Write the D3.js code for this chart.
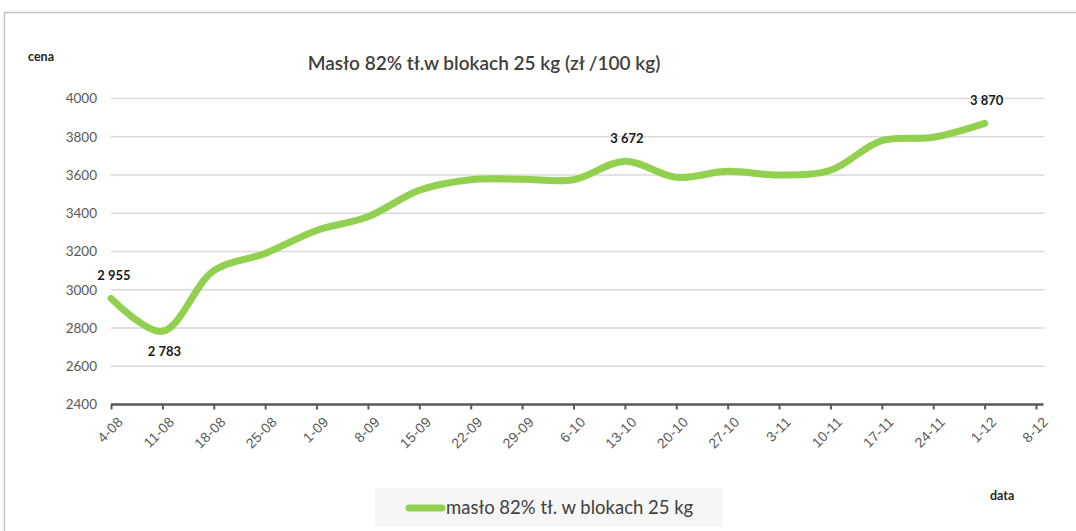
<!DOCTYPE html>
<html><head><meta charset="utf-8">
<script src="https://cdn.jsdelivr.net/npm/d3@7"></script>
<style>
html,body{margin:0;padding:0;background:#fff;}
svg{display:block;font-family:Lato,"Open Sans",sans-serif;}
</style></head>
<body><svg id="c" width="1076" height="531"></svg>
<script>
const categories = ["4-08","11-08","18-08","25-08","1-09","8-09","15-09","22-09","29-09","6-10","13-10","20-10","27-10","3-11","10-11","17-11","24-11","1-12","8-12"];
const prices = [2955,2783,3100,3190,3310,3382,3520,3575,3578,3575,3672,3588,3619,3600,3625,3780,3797,3870,null];
const labelIdx = [0,1,10,17];
const labelPos = ["above","below","above","above"];
const yTicks = [2400,2600,2800,3000,3200,3400,3600,3800,4000];
const titleText = "Masło 82% tł.w blokach  25 kg (zł /100 kg)";
const seriesName = "masło 82% tł. w blokach 25 kg";

const svg = d3.select("#c");
const W = 1076, H = 531;
const left = 111, right = 1036, axisEnd = 1043.5;
const x = d3.scalePoint().domain(categories).range([left, right]);
const y = d3.scaleLinear().domain([2400, 4000]).range([404.5, 98.5]);

// frame
svg.append("path").attr("d", `M4.5,${H}V12.5H${W}`).attr("fill","none").attr("stroke","#c0c0c0").attr("stroke-width",1.5);

// gridlines
svg.append("g").selectAll("line").data(yTicks.filter(d=>d>2400)).join("line")
  .attr("x1", left).attr("x2", axisEnd+1).attr("y1", d=>y(d)).attr("y2", d=>y(d))
  .attr("stroke","#d9d9d9").attr("stroke-width",1.5);

// y axis labels
const yAxis = d3.axisLeft(y).tickValues(yTicks).tickSize(0).tickPadding(14).tickFormat(d3.format("d"));
const gy = svg.append("g").attr("transform",`translate(${left},0)`).call(yAxis);
gy.select(".domain").remove();
gy.selectAll("text").attr("fill","#595959").style("font-size","13.5px").style("font-family","Lato, sans-serif");

// x axis
const xAxis = d3.axisBottom(x).tickSize(5).tickPadding(4);
const gx = svg.append("g").attr("transform",`translate(0,${y(2400)})`).call(xAxis);
gx.select(".domain").attr("d",`M${left},0H${axisEnd}`).attr("stroke","#595959").attr("stroke-width",2.5);
gx.selectAll(".tick line").attr("stroke","#595959").attr("stroke-width",2);
gx.selectAll(".tick text")
  .attr("fill","#595959").style("font-size","14px").style("letter-spacing","0.3px")
  .attr("text-anchor","end").attr("dy","0")
  .attr("transform","translate(6,12) rotate(-45)");

// line
const line = d3.line().defined(d=>d!=null).x((d,i)=>x(categories[i])).y(d=>y(d)).curve(d3.curveCatmullRom.alpha(0.5));
svg.append("path").datum(prices).attr("d", line)
  .attr("fill","none").attr("stroke","#92d050").attr("stroke-width",7).attr("stroke-linecap","round").attr("stroke-linejoin","round");

// data labels
const fmt = v => d3.format(",")(v).replace(",", " ");
svg.append("g").selectAll("text").data(labelIdx).join("text")
  .attr("x", (d,k)=> x(categories[d]) + (k===0?3:2))
  .attr("y", (d,k)=> labelPos[k]==="above" ? y(prices[d]) - 18 : y(prices[d]) + 25)
  .attr("text-anchor","middle").attr("font-weight","bold").style("font-size","13px").attr("fill","#1a1a1a")
  .text(d=>fmt(prices[d]));

// title
svg.append("text").attr("x", 484).attr("y", 70).attr("text-anchor","middle")
  .style("font-size","19px").attr("fill","#404040").attr("font-weight","600").text(titleText);

// axis titles
svg.append("text").attr("x", 28).attr("y", 61).style("font-size","12.5px").attr("font-weight","bold").attr("fill","#262626").text("cena");
svg.append("text").attr("x", 990).attr("y", 500).style("font-size","12.5px").attr("font-weight","bold").attr("fill","#262626").text("data");

// legend
const lg = svg.append("g");
lg.append("rect").attr("x",375).attr("y",488).attr("width",348).attr("height",39).attr("fill","#f6f6f6");
lg.append("line").attr("x1",409).attr("x2",442).attr("y1",508).attr("y2",508).attr("stroke","#92d050").attr("stroke-width",7).attr("stroke-linecap","round");
lg.append("text").attr("x",446).attr("y",514).style("font-size","18.5px").attr("fill","#404040").text(seriesName);
</script></body></html>
